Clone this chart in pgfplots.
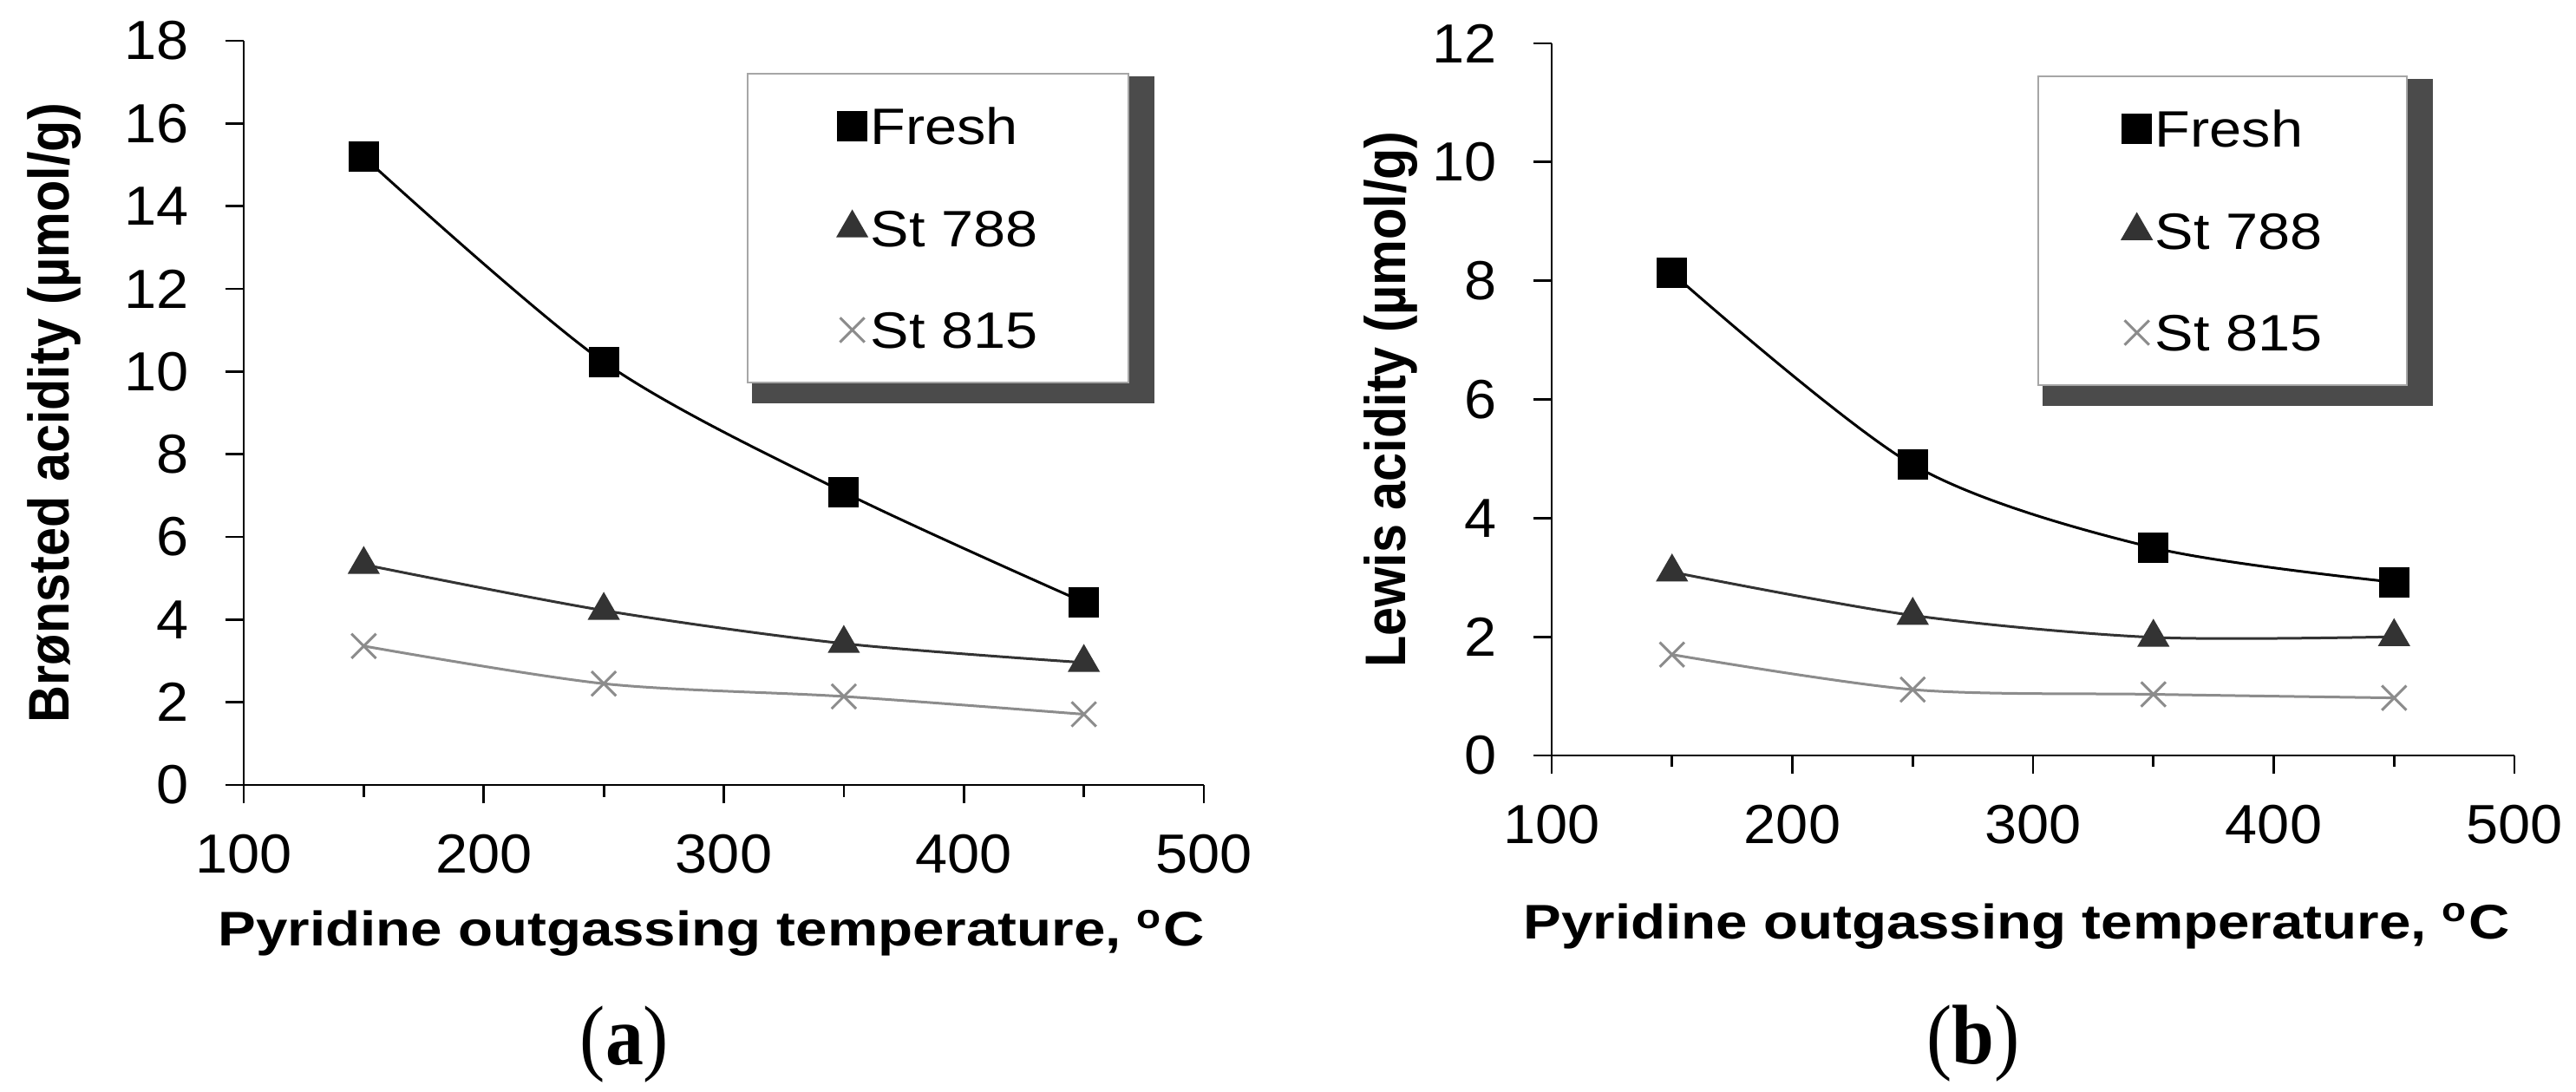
\documentclass[border=0pt]{standalone}
\usepackage{pgfplots}
\pgfplotsset{compat=1.18}
\usepackage{fontspec}
\setmainfont{Liberation Sans}
\newfontfamily\capserif[FakeStretch=0.9]{Liberation Serif}
\newfontfamily\tickfont[FakeStretch=1.05]{Liberation Sans}
\newfontfamily\legfont[FakeStretch=1.13]{Liberation Sans}
\newfontfamily\xlabfont[FakeStretch=1.17]{Liberation Sans}
\newfontfamily\ylabfont[FakeStretch=0.9]{Liberation Sans}
\usetikzlibrary{shadows}
\definecolor{c788}{HTML}{333333}
\definecolor{c815}{HTML}{8C8C8C}
\definecolor{shad}{HTML}{4B4B4B}
\definecolor{lborder}{HTML}{A6A6A6}
\newcommand\ticksize{\tickfont\fontsize{12.7pt}{15pt}\selectfont}
\newcommand\legsize{\legfont\fontsize{11.8pt}{15pt}\selectfont}
\newcommand\labsize{\xlabfont\fontsize{11.2pt}{15pt}\selectfont\bfseries}
\newcommand\ylabsize{\ylabfont\fontsize{13.2pt}{15pt}\selectfont\bfseries}
\pgfplotsset{
  myaxis/.style={
    scale only axis,
    axis x line*=bottom, axis y line*=left,
    axis line style={line width=0.55pt, black},
    every tick/.style={line width=0.55pt, black},
    tick align=outside,
    major tick length=4.2pt,
    minor tick length=2.7pt,
    xmin=100, xmax=500,
    xtick={100,200,300,400,500},
    minor xtick={150,250,350,450},
    ymin=0,
    /pgf/number format/assume math mode=true,
    xticklabel style={font=\ticksize, anchor=base, inner sep=0pt, yshift=-16pt},
    yticklabel style={font=\ticksize, anchor=east, inner sep=0pt, xshift=-8.2pt},
    legend cell align=left,
    legend image code/.code={\draw[##1, only marks] plot coordinates {(3.2pt,0pt)};},
    legend style={draw=lborder, line width=0.4pt, fill=white, inner sep=0pt,
      minimum height=71.2pt, row sep=15pt, column sep=1pt, font=\legsize,
      drop shadow={shadow scale=1.058, shadow xshift=3.3pt, shadow yshift=-2.6pt, fill=shad, opacity=1},
      nodes={inner sep=0pt, minimum width=0pt, minimum height=0pt, text height=8.5pt, text depth=0pt}},
    clip=false,
  },
  sfresh/.style={black, line width=0.6pt, smooth, tension=0.5, mark=square*, mark size=3.2pt, mark options={solid, fill=black}},
  s788/.style={c788, line width=0.6pt, smooth, tension=0.5, mark=triangle*, mark size=3.7pt, mark options={solid, fill=c788}},
  s815/.style={c815, line width=0.6pt, smooth, tension=0.5, mark=x, mark size=4pt, mark options={solid, line width=0.6pt}},
}
\begin{document}
\begin{tikzpicture}
\path[use as bounding box] (0pt,0pt) rectangle (594pt,251.6pt);
% ---------------- panel (a)
\begin{axis}[myaxis,
  at={(56.2pt,70.6pt)}, anchor=south west,
  width=221.4pt, height=171.6pt,
  ymax=18, ytick={0,2,...,18},
  every axis x label/.style={at={(axis description cs:0.487,-0.216)}, anchor=base, font=\labsize},
  every axis y label/.style={at={(axis description cs:-0.1816,0.5)}, anchor=base, rotate=90, font=\ylabsize},
  xlabel={Pyridine outgassing temperature, \textsuperscript{o}C},
  ylabel={Brønsted acidity (µmol/g)},
  legend style={at={(axis description cs:0.9223,0.9569)}, anchor=north east, minimum width=87.8pt},
]
\addplot[sfresh] coordinates {(150,15.19) (250,10.23) (350,7.08) (450,4.42)};
\addlegendentry{Fresh}
\addplot[s788] coordinates {(150,5.33) (250,4.22) (350,3.42) (450,2.96)};
\addlegendentry{St 788}
\addplot[s815] coordinates {(150,3.36) (250,2.45) (350,2.14) (450,1.71)};
\addlegendentry{St 815}
\end{axis}
% ---------------- panel (b)
\begin{axis}[myaxis,
  at={(357.8pt,77.4pt)}, anchor=south west,
  width=222pt, height=164.2pt,
  ymax=12, ytick={0,2,...,12},
  every axis x label/.style={at={(axis description cs:0.483,-0.258)}, anchor=base, font=\labsize},
  every axis y label/.style={at={(axis description cs:-0.1514,0.5)}, anchor=base, rotate=90, font=\ylabsize},
  xlabel={Pyridine outgassing temperature, \textsuperscript{o}C},
  ylabel={Lewis acidity (µmol/g)},
  legend style={at={(axis description cs:0.8892,0.9549)}, anchor=north east, minimum width=85pt},
]
\addplot[sfresh] coordinates {(150,8.13) (250,4.90) (350,3.50) (450,2.92)};
\addlegendentry{Fresh}
\addplot[s788] coordinates {(150,3.09) (250,2.36) (350,1.99) (450,2.00)};
\addlegendentry{St 788}
\addplot[s815] coordinates {(150,1.70) (250,1.11) (350,1.03) (450,0.97)};
\addlegendentry{St 815}
\end{axis}
\node[anchor=base, font={\capserif\fontsize{19.5pt}{21pt}\selectfont}] at (144pt,6pt) {(\textbf{a})};
\node[anchor=base, font={\capserif\fontsize{19.5pt}{21pt}\selectfont}] at (455pt,6.4pt) {(\textbf{b})};
\end{tikzpicture}
\end{document}
